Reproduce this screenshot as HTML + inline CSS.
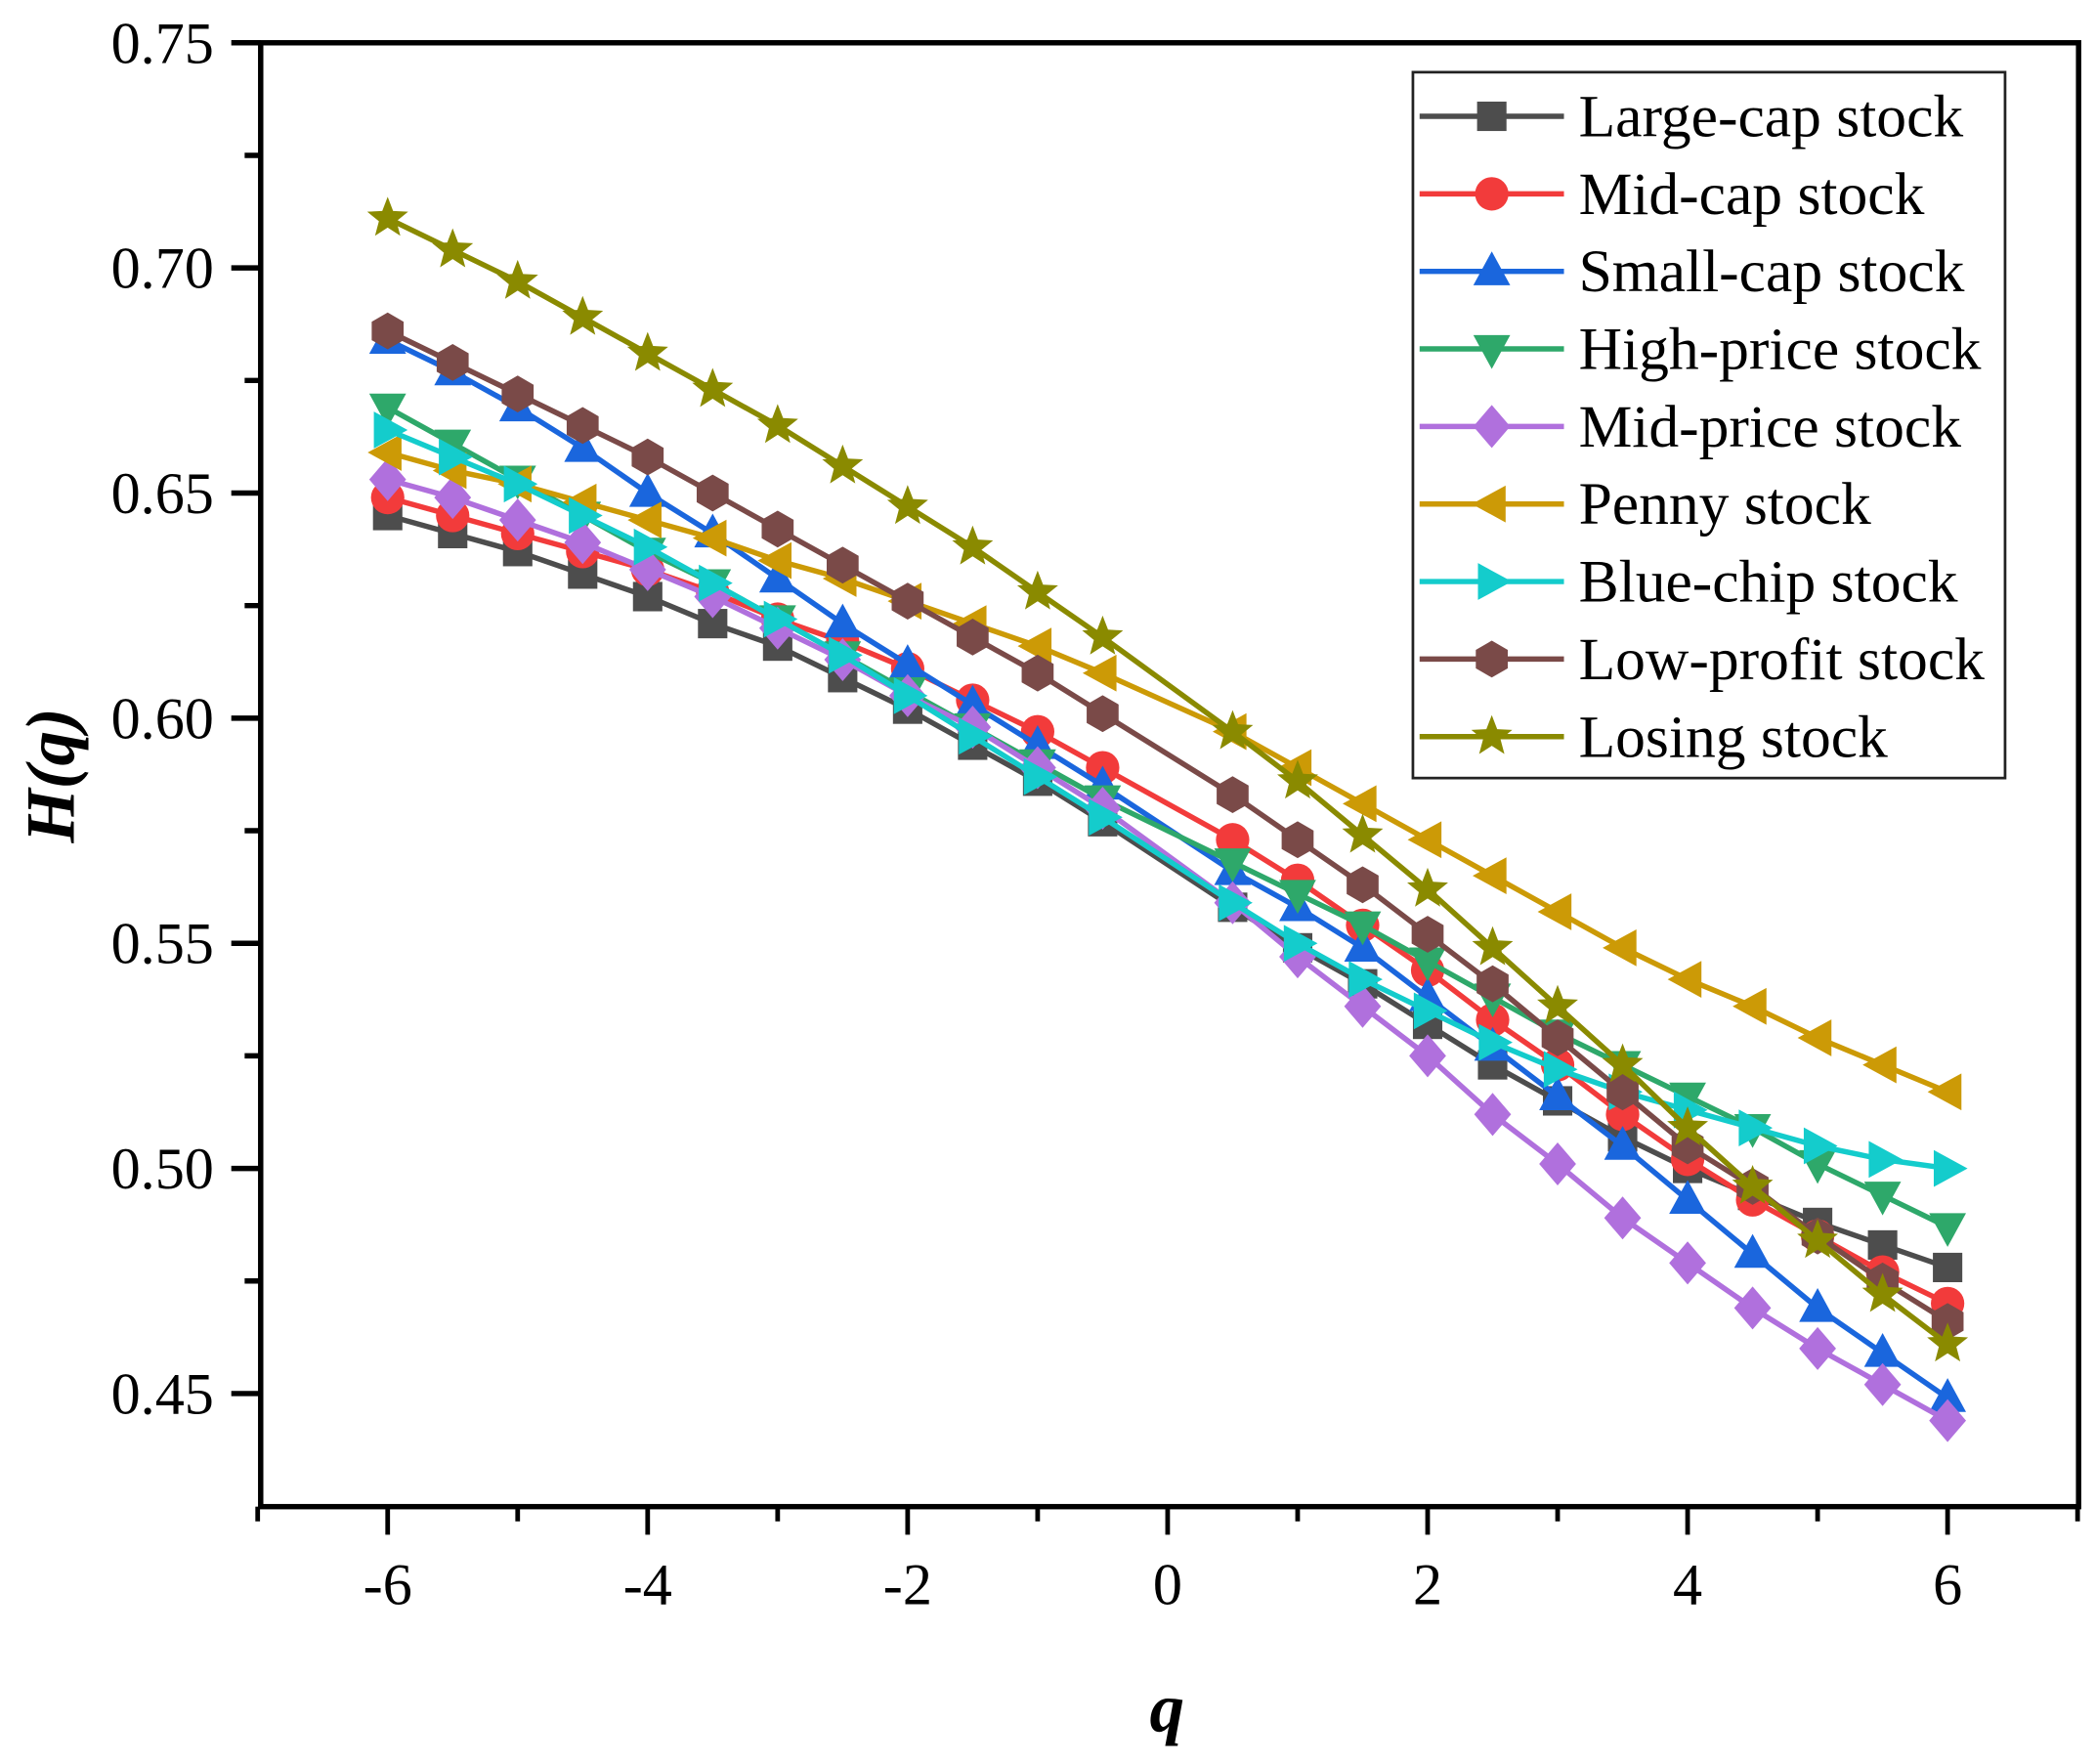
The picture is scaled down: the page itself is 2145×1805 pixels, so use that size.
<!DOCTYPE html>
<html><head><meta charset="utf-8"><style>html,body{margin:0;padding:0;background:#fff}svg{display:block}</style></head>
<body>
<svg id="s" width="2145" height="1805" viewBox="0 0 1568 1319.5" xmlns="http://www.w3.org/2000/svg" font-family="'Liberation Serif',serif"></svg>
<script>
const X=q=>290+(q+6)*97.25, Y=v=>32+(0.75-v)/0.05*168.4;
const qs=[-6,-5.5,-5,-4.5,-4,-3.5,-3,-2.5,-2,-1.5,-1,-0.5,0.5,1,1.5,2,2.5,3,3.5,4,4.5,5,5.5,6];
const S=[
["Large-cap stock","#4d4d4d","sq",[0.645,0.641,0.637,0.632,0.627,0.621,0.616,0.609,0.602,0.594,0.586,0.577,0.558,0.549,0.541,0.532,0.523,0.515,0.507,0.500,0.494,0.488,0.483,0.478]],
["Mid-cap stock","#f23b3b","ci",[0.649,0.645,0.641,0.637,0.633,0.628,0.622,0.617,0.611,0.604,0.597,0.589,0.573,0.564,0.554,0.544,0.533,0.523,0.512,0.502,0.493,0.485,0.477,0.470]],
["Small-cap stock","#1a66dd","tu",[0.684,0.677,0.669,0.660,0.650,0.641,0.631,0.621,0.612,0.603,0.594,0.585,0.566,0.558,0.549,0.538,0.527,0.516,0.505,0.493,0.481,0.469,0.459,0.449]],
["High-price stock","#2ea86a","td",[0.669,0.661,0.653,0.645,0.637,0.630,0.622,0.614,0.606,0.598,0.590,0.582,0.568,0.561,0.554,0.546,0.538,0.530,0.523,0.516,0.509,0.501,0.494,0.487]],
["Mid-price stock","#b070dd","di",[0.653,0.649,0.644,0.639,0.633,0.627,0.620,0.613,0.605,0.598,0.589,0.580,0.559,0.547,0.536,0.525,0.512,0.501,0.489,0.479,0.469,0.460,0.452,0.444]],
["Penny stock","#cc9a06","tl",[0.659,0.655,0.652,0.648,0.644,0.640,0.635,0.631,0.626,0.621,0.616,0.610,0.597,0.589,0.581,0.573,0.565,0.557,0.549,0.542,0.536,0.529,0.523,0.517]],
["Blue-chip stock","#14cccc","tr",[0.664,0.658,0.652,0.645,0.638,0.630,0.622,0.614,0.605,0.596,0.587,0.578,0.559,0.550,0.542,0.535,0.528,0.522,0.517,0.513,0.509,0.505,0.502,0.500]],
["Low-profit stock","#7a4a48","hx",[0.686,0.679,0.672,0.665,0.658,0.650,0.642,0.634,0.626,0.618,0.610,0.601,0.583,0.573,0.563,0.552,0.541,0.529,0.517,0.505,0.496,0.485,0.475,0.466]],
["Losing stock","#8a8a00","st",[0.711,0.704,0.697,0.689,0.681,0.673,0.665,0.656,0.647,0.638,0.628,0.618,0.597,0.586,0.574,0.562,0.549,0.536,0.523,0.509,0.496,0.484,0.472,0.461]]];
function mk(t,x,y,c){const k=1.15;let p;
 switch(t){
 case"sq":return`<rect x="${x-11}" y="${y-11}" width="22" height="22" fill="${c}"/>`;
 case"ci":return`<circle cx="${x}" cy="${y}" r="12.5" fill="${c}"/>`;
 case"tu":p=[[0,-13],[12,9],[-12,9]];break;
 case"td":p=[[0,13],[12,-9],[-12,-9]];break;
 case"tl":p=[[-13,0],[9,-12],[9,12]];break;
 case"tr":p=[[13,0],[-9,-12],[-9,12]];break;
 case"di":p=[[0,-14],[12,0],[0,14],[-12,0]];break;
 case"hx":p=[];for(let i=0;i<6;i++){const a=Math.PI/6+i*Math.PI/3;p.push([12*Math.cos(a),12*Math.sin(a)])}break;
 case"st":p=[];for(let i=0;i<10;i++){const a=-Math.PI/2+i*Math.PI/5,R=i%2?6:14;p.push([R*Math.cos(a),R*Math.sin(a)])}break;}
 return`<polygon points="${p.map(a=>(x+a[0]*k)+','+(y+a[1]*k)).join(' ')}" fill="${c}"/>`;}
let h='';
S.forEach(s=>{h+=`<polyline fill="none" stroke="${s[1]}" stroke-width="4" points="${qs.map((q,i)=>X(q)+','+Y(s[3][i])).join(' ')}"/>`;
 qs.forEach((q,i)=>h+=mk(s[2],X(q),Y(s[3][i]),s[1]));});
h+=`<rect x="195" y="32" width="1360" height="1095" fill="none" stroke="#000" stroke-width="4"/>`;
for(let i=0;i<=12;i++){const v=0.75-i*0.025,y=Y(v);if(y>1127)break;const maj=i%2==0;
 h+=`<line x1="${maj?173:183}" x2="195" y1="${y}" y2="${y}" stroke="#000" stroke-width="4"/>`;
 if(maj)h+=`<text x="160" y="${y+15}" font-size="44" text-anchor="end">${v.toFixed(2)}</text>`;}
for(let q=-7;q<=7;q++){const x=X(q),maj=q%2==0;
 h+=`<line x1="${x}" x2="${x}" y1="1127" y2="${maj?1148:1138}" stroke="#000" stroke-width="3.5"/>`;
 if(maj)h+=`<text x="${x}" y="1200" font-size="44" text-anchor="middle">${q}</text>`;}
h+=`<text x="873" y="1295" font-size="52" font-weight="bold" font-style="italic" text-anchor="middle">q</text>`;
h+=`<text transform="translate(55,580) rotate(-90)" font-size="52" font-weight="bold" font-style="italic" text-anchor="middle">H(q)</text>`;
h+=`<rect x="1057" y="54" width="443" height="528" fill="#fff" stroke="#222" stroke-width="2"/>`;
S.forEach((s,i)=>{const y=87+i*58;h+=`<line x1="1062" x2="1170" y1="${y}" y2="${y}" stroke="${s[1]}" stroke-width="4"/>`+mk(s[2],1116,y,s[1])+`<text x="1181" y="${y+15}" font-size="45">${s[0]}</text>`;});
document.getElementById('s').innerHTML=h;
</script>
</body></html>
